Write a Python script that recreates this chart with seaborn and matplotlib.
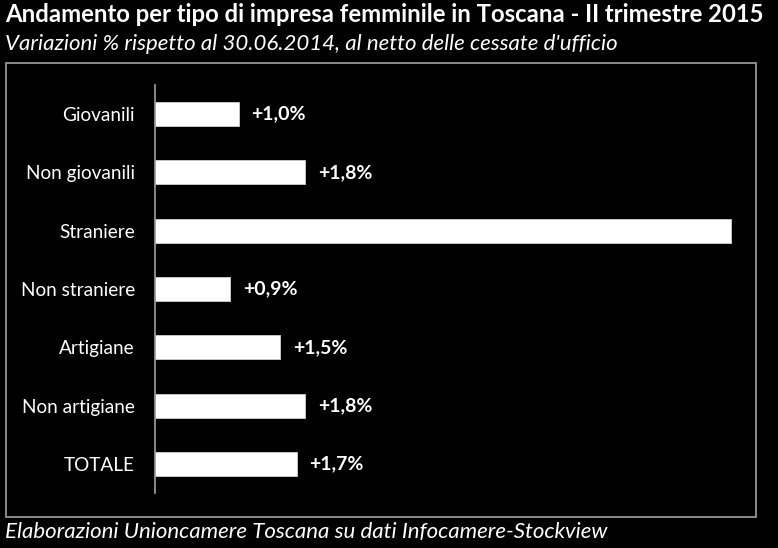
import matplotlib
matplotlib.use("Agg")
import matplotlib.pyplot as plt
import seaborn as sns
import pandas as pd
from matplotlib.patches import Rectangle

categories = ["Giovanili", "Non giovanili", "Straniere", "Non straniere",
              "Artigiane", "Non artigiane", "TOTALE"]
values = [1.0, 1.8, 6.9, 0.9, 1.5, 1.8, 1.7]
# the label of "Straniere" is not visible in the reference (out of the plot area)
labels = ["+1,0%", "+1,8%", "", "+0,9%", "+1,5%", "+1,8%", "+1,7%"]

title = "Andamento per tipo di impresa femminile in Toscana - II trimestre 2015"
subtitle = "Variazioni % rispetto al 30.06.2014, al netto delle cessate d'ufficio"
footer = "Elaborazioni Unioncamere Toscana su dati Infocamere-Stockview"

sns.set_theme(style="white")
plt.rcParams["font.family"] = ["Lato", "DejaVu Sans"]

W, H = 778, 548
fig = plt.figure(figsize=(W / 100, H / 100), dpi=100, facecolor="black")

left = 155 / W
bottom = 1 - 493 / H
height = (493 - 85) / H
xmax = 7.0
px_per_unit = 83.5
width = xmax * px_per_unit / W
ax = fig.add_axes([left, bottom, width, height])
ax.set_facecolor("black")

df = pd.DataFrame({"cat": categories, "val": values})
sns.barplot(data=df, x="val", y="cat", orient="h", color="white",
            saturation=1, width=0.41, edgecolor="#d0d0d0", linewidth=0.6, ax=ax)

ax.set_xlim(0, xmax)
ax.set_ylim(6.5, -0.5)
ax.set_xlabel("")
ax.set_ylabel("")
ax.set_xticks([])
for s in ["top", "right", "bottom"]:
    ax.spines[s].set_visible(False)
ax.spines["left"].set_color("#a0a0a0")
ax.spines["left"].set_linewidth(1.2)
ax.tick_params(axis="y", colors="white", labelsize=13.7, length=0, pad=14.5)
for t in ax.get_yticklabels():
    t.set_color("white")

for i, (v, lab) in enumerate(zip(values, labels)):
    if lab:
        ax.text(v + 0.15, i, lab, color="white", fontsize=14, fontweight="bold",
                va="center", ha="left")

fig.patches.append(Rectangle((6 / W, 1 - 517 / H), (756 - 6) / W, (517 - 63) / H,
                             transform=fig.transFigure, fill=False,
                             edgecolor="#a0a0a0", linewidth=1.2))

fig.text(5 / W, 1 - 15 / H, title, color="white", fontsize=17.2,
         fontweight="bold", va="center", ha="left")
fig.text(5 / W, 1 - 44 / H, subtitle, color="white", fontsize=16,
         style="italic", va="center", ha="left")
fig.text(5 / W, 1 - 532 / H, footer, color="white", fontsize=16,
         style="italic", va="center", ha="left")

fig.savefig("out.png", dpi=100, facecolor="black")
